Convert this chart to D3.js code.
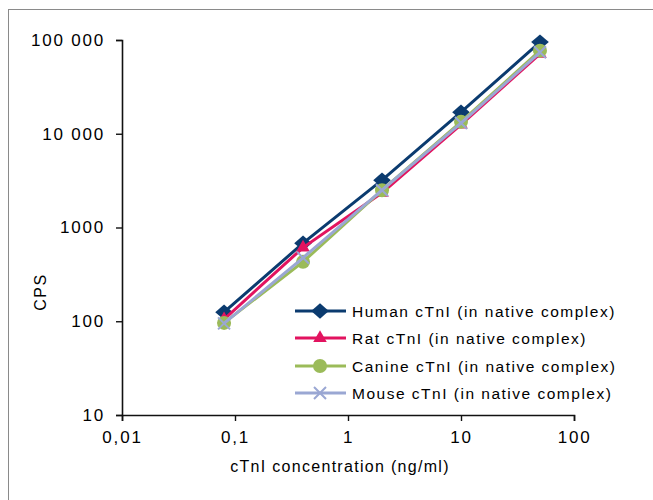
<!DOCTYPE html>
<html><head><meta charset="utf-8">
<script src="https://cdn.jsdelivr.net/npm/d3@7"></script>
<style>
body{margin:0;background:#fff;}
svg text{font-family:"Liberation Sans",Arial,sans-serif;fill:#000;}
</style></head>
<body>
<svg id="c" width="653" height="500"></svg>
<script>
const concentrations = [0.08, 0.4, 2, 10, 50];
const seriesNames = ["Human cTnI (in native complex)", "Rat cTnI (in native complex)", "Canine cTnI (in native complex)", "Mouse cTnI (in native complex)"];
const human  = [125, 680, 3200, 17000, 95000];
const rat    = [105, 610, 2350, 12500, 71000];
const canine = [96, 430, 2500, 13400, 77000];
const mouse  = [95, 475, 2500, 13000, 74000];
const xTickValues = [0.01, 0.1, 1, 10, 100];
const xTickLabels = ["0,01", "0,1", "1", "10", "100"];
const yTickValues = [10, 100, 1000, 10000, 100000];
const yTickLabels = ["10", "100", "1000", "10 000", "100 000"];

const colors = ["#0b3b6f", "#e2135f", "#9bbb59", "#9aa7d3"];
const markers = ["diamond", "triangle", "circle", "x"];
const allSeries = [human, rat, canine, mouse];

const svg = d3.select("#c");
svg.append("rect").attr("x", 8.5).attr("y", 9.5).attr("width", 800).attr("height", 700)
  .attr("fill", "none").attr("stroke", "#8a8a8a").attr("stroke-width", 1);

const x = d3.scaleLog().domain([0.01, 100]).range([122, 574]);
const y = d3.scaleLog().domain([10, 100000]).range([415, 40]);

const yAxis = d3.axisLeft(y).tickValues(yTickValues)
  .tickFormat((d, i) => yTickLabels[i]).tickSize(6).tickPadding(11);
const gy = svg.append("g").attr("transform", "translate(122,0)").call(yAxis);
gy.selectAll("text").style("font-size", "17px").style("letter-spacing", "1.8px");

const xAxis = d3.axisBottom(x).tickValues(xTickValues)
  .tickFormat((d, i) => xTickLabels[i]).tickSize(6).tickPadding(10);
const gx = svg.append("g").attr("transform", "translate(0,415)").call(xAxis);
gx.selectAll("text").style("font-size", "17px").style("letter-spacing", "1.8px");

[gx, gy].forEach(g => {
  g.select(".domain").attr("stroke", "#111").attr("stroke-width", 1.6);
  g.selectAll(".tick line").attr("stroke", "#111").attr("stroke-width", 1.4);
});

svg.append("text").attr("x", 340).attr("y", 472).attr("text-anchor", "middle")
  .style("font-size", "16px").style("letter-spacing", "1.3px").text("cTnI concentration (ng/ml)");
svg.append("text").attr("transform", "translate(46,292) rotate(-90)").attr("text-anchor", "middle")
  .style("font-size", "16px").style("letter-spacing", "1.5px").text("CPS");

function drawMarker(g, type, color, cx, cy) {
  if (type === "diamond") {
    g.append("path").attr("d", d3.symbol(d3.symbolDiamond2, 150)())
      .attr("transform", `translate(${cx},${cy}) scale(1.15,1)`).attr("fill", color);
  } else if (type === "triangle") {
    g.append("path").attr("d", d3.symbol(d3.symbolTriangle, 80)())
      .attr("transform", `translate(${cx},${cy})`).attr("fill", color);
  } else if (type === "circle") {
    g.append("circle").attr("cx", cx).attr("cy", cy).attr("r", 7).attr("fill", color);
  } else {
    g.append("path").attr("d", `M${cx-6},${cy-6}L${cx+6},${cy+6}M${cx-6},${cy+6}L${cx+6},${cy-6}`)
      .attr("stroke", color).attr("stroke-width", 2).attr("fill", "none");
  }
}

const line = d3.line().x(d => x(d[0])).y(d => y(d[1]));
allSeries.forEach((vals, si) => {
  const g = svg.append("g");
  const pts = concentrations.map((c, i) => [c, vals[i]]);
  g.append("path").attr("d", line(pts)).attr("fill", "none")
    .attr("stroke", colors[si]).attr("stroke-width", 3);
  pts.forEach(p => drawMarker(g, markers[si], colors[si], x(p[0]), y(p[1])));
});

// legend
const legY = [311, 338, 366, 393];
seriesNames.forEach((name, i) => {
  const g = svg.append("g");
  g.append("line").attr("x1", 295).attr("x2", 346).attr("y1", legY[i]).attr("y2", legY[i])
    .attr("stroke", colors[i]).attr("stroke-width", 3);
  drawMarker(g, markers[i], colors[i], 320, legY[i]);
  g.append("text").attr("x", 352).attr("y", legY[i] + 5.5)
    .style("font-size", "15.5px").style("letter-spacing", "1.5px").text(name);
});
</script>
</body></html>
